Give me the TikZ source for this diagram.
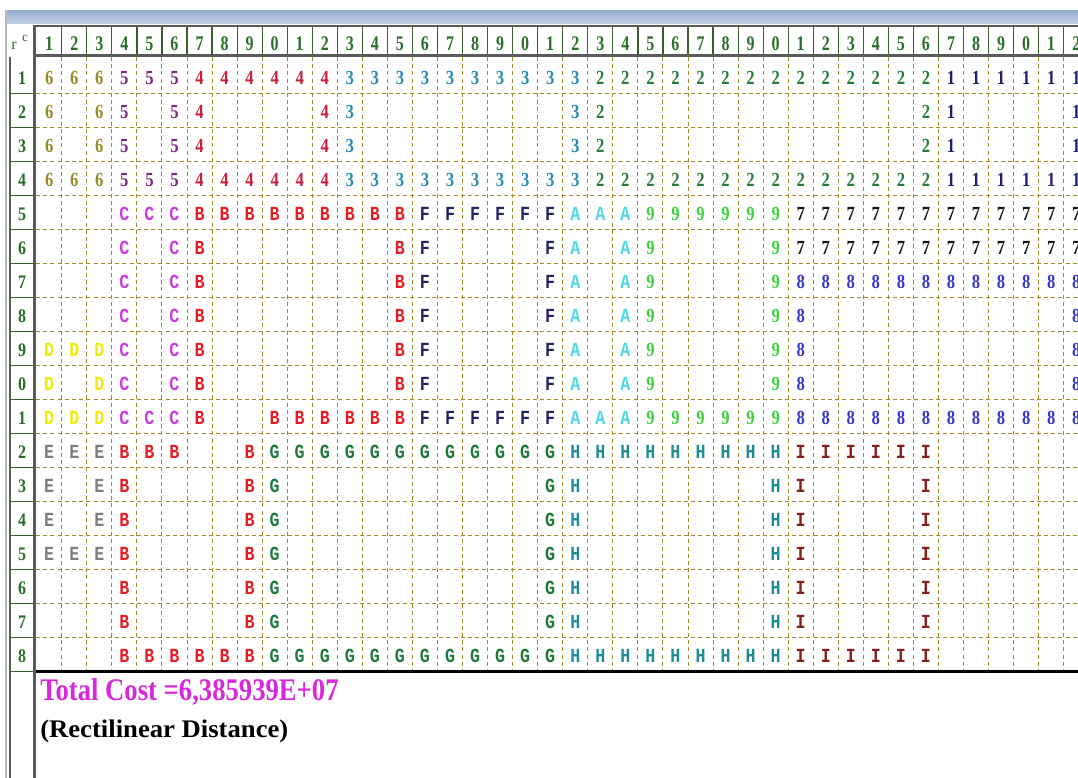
\documentclass[tikz,border=0pt]{standalone}
\usepackage{fontspec}
\setmainfont{Liberation Serif}
\newfontfamily\monof{Liberation Mono}
\definecolor{cl6}{RGB}{150,140,40}
\definecolor{cl5}{RGB}{125,40,130}
\definecolor{cl4}{RGB}{200,30,60}
\definecolor{cl3}{RGB}{40,140,175}
\definecolor{cl2}{RGB}{40,125,60}
\definecolor{cl1}{RGB}{30,30,115}
\definecolor{clC}{RGB}{200,60,225}
\definecolor{clB}{RGB}{230,30,35}
\definecolor{clF}{RGB}{35,35,95}
\definecolor{clA}{RGB}{80,215,230}
\definecolor{cl9}{RGB}{60,210,60}
\definecolor{cl7}{RGB}{20,20,20}
\definecolor{cl8}{RGB}{55,55,200}
\definecolor{clD}{RGB}{240,235,0}
\definecolor{clE}{RGB}{125,125,125}
\definecolor{clG}{RGB}{30,120,60}
\definecolor{clH}{RGB}{30,140,150}
\definecolor{clI}{RGB}{135,30,30}
\definecolor{hdrgreen}{RGB}{40,110,40}
\definecolor{gridol}{RGB}{160,140,40}
\definecolor{hdrline}{RGB}{60,95,50}
\definecolor{thickgrey}{RGB}{90,90,90}
\definecolor{magtxt}{RGB}{215,40,220}
\tikzset{
  dig/.style={font=\fontsize{12.5}{12}\selectfont\bfseries},
  let/.style={font=\fontsize{12.5}{12}\selectfont\monof\bfseries},
  ch1/.style={dig,text=cl1}, ch2/.style={dig,text=cl2}, ch3/.style={dig,text=cl3},
  ch4/.style={dig,text=cl4}, ch5/.style={dig,text=cl5}, ch6/.style={dig,text=cl6},
  ch7/.style={dig,text=cl7}, ch8/.style={dig,text=cl8}, ch9/.style={dig,text=cl9},
  chA/.style={let,text=clA}, chB/.style={let,text=clB}, chC/.style={let,text=clC},
  chD/.style={let,text=clD}, chE/.style={let,text=clE}, chF/.style={let,text=clF},
  chG/.style={let,text=clG}, chH/.style={let,text=clH}, chI/.style={let,text=clI},
  gridl/.style={draw=gridol, line width=0.75pt, dash pattern=on 3pt off 2.4pt},
  hdrl/.style={draw=hdrline, line width=0.9pt},
  hdr/.style={inner sep=0pt, text=hdrgreen, font=\fontsize{12}{12}\selectfont\bfseries},
}
\newcommand\cellrun[4]{%
  \foreach \k in {#2,...,#3}{%
    \node[inner sep=0pt, ch#4] (n-#1-\k) at ({36.7+25.05*(\k-0.5)},{61+34*(#1-0.5)}) {\scalebox{1}[1.2]{#4}};%
  }%
}
\begin{document}
\begin{tikzpicture}[x=0.75pt,y=-0.75pt]
\useasboundingbox (0,0) rectangle (1078,778);
\clip (0,0) rectangle (1078,778);
% window title bar
\fill[top color={rgb,255:red,150;green,172;blue,205}, bottom color={rgb,255:red,192;green,206;blue,226}] (6,10) rectangle (1078,23);
% left borders
\draw[draw={rgb,255:red,185;green,185;blue,185}, line width=1.1pt] (6,10) -- (6,778);
\draw[draw={rgb,255:red,80;green,100;blue,80}, line width=1.1pt] (10,57) -- (10,778);
% dashed grid
\foreach \k in {1,...,42} \draw[gridl] ({36.7+25.05*\k},57) -- ({36.7+25.05*\k},671);
\foreach \r in {1,...,17} \draw[gridl] (36,{59.1+34*\r}) -- (1078,{59.1+34*\r});
% header
\draw[draw=thickgrey, line width=1.2pt] (33,26) -- (1078,26);
\foreach \k in {1,...,42} \draw[hdrl] ({36.7+25.05*\k},27) -- ({36.7+25.05*\k},54);
\foreach \k in {1,...,42}{%
  \pgfmathtruncatemacro\lab{mod(\k,10)}%
  \node[hdr] (h-\k) at ({36.7+25.05*(\k-0.5)},44) {\scalebox{1}[1.3]{\lab}};}
\node[hdr, font=\fontsize{12}{12}\selectfont] (cr) at (14,46) {r};
\node[hdr, font=\fontsize{10}{10}\selectfont] (cc) at (25,38) {c};
% row labels
\foreach \r in {1,...,18}{%
  \pgfmathtruncatemacro\lab{mod(\r,10)}%
  \node[hdr] (r-\r) at (22,{61+34*(\r-0.5)}) {\scalebox{1}[1.2]{\lab}};
  \draw[hdrl] (10,{59.1+34*\r}) -- (33,{59.1+34*\r});}
% thick lines
\draw[draw=thickgrey, line width=2.6pt] (33,55.5) -- (1078,55.5);
\draw[draw=thickgrey, line width=2.4pt] (34.6,25) -- (34.6,778);
\draw[draw=black, line width=2.2pt] (36,671.5) -- (1078,671.5);
% cells
\cellrun{1}{1}{3}{6}\cellrun{1}{4}{6}{5}\cellrun{1}{7}{12}{4}\cellrun{1}{13}{22}{3}\cellrun{1}{23}{36}{2}\cellrun{1}{37}{42}{1}
\foreach \rr in {2,3}{%
 \cellrun{\rr}{1}{1}{6}\cellrun{\rr}{3}{3}{6}\cellrun{\rr}{4}{4}{5}\cellrun{\rr}{6}{6}{5}\cellrun{\rr}{7}{7}{4}\cellrun{\rr}{12}{12}{4}%
 \cellrun{\rr}{13}{13}{3}\cellrun{\rr}{22}{22}{3}\cellrun{\rr}{23}{23}{2}\cellrun{\rr}{36}{36}{2}\cellrun{\rr}{37}{37}{1}\cellrun{\rr}{42}{42}{1}}
\cellrun{4}{1}{3}{6}\cellrun{4}{4}{6}{5}\cellrun{4}{7}{12}{4}\cellrun{4}{13}{22}{3}\cellrun{4}{23}{36}{2}\cellrun{4}{37}{42}{1}
\cellrun{5}{4}{6}{C}\cellrun{5}{7}{15}{B}\cellrun{5}{16}{21}{F}\cellrun{5}{22}{24}{A}\cellrun{5}{25}{30}{9}\cellrun{5}{31}{42}{7}
\foreach \rr in {6,...,10}{%
 \cellrun{\rr}{4}{4}{C}\cellrun{\rr}{6}{6}{C}\cellrun{\rr}{7}{7}{B}\cellrun{\rr}{15}{15}{B}\cellrun{\rr}{16}{16}{F}\cellrun{\rr}{21}{21}{F}%
 \cellrun{\rr}{22}{22}{A}\cellrun{\rr}{24}{24}{A}\cellrun{\rr}{25}{25}{9}\cellrun{\rr}{30}{30}{9}}
\cellrun{6}{31}{42}{7}
\cellrun{7}{31}{42}{8}
\foreach \rr in {8,9,10}{\cellrun{\rr}{31}{31}{8}\cellrun{\rr}{42}{42}{8}}
\cellrun{9}{1}{3}{D}
\cellrun{10}{1}{1}{D}\cellrun{10}{3}{3}{D}
\cellrun{11}{1}{3}{D}\cellrun{11}{4}{6}{C}\cellrun{11}{7}{7}{B}\cellrun{11}{10}{15}{B}\cellrun{11}{16}{21}{F}\cellrun{11}{22}{24}{A}\cellrun{11}{25}{30}{9}\cellrun{11}{31}{42}{8}
\cellrun{12}{1}{3}{E}\cellrun{12}{4}{6}{B}\cellrun{12}{9}{9}{B}\cellrun{12}{10}{21}{G}\cellrun{12}{22}{30}{H}\cellrun{12}{31}{36}{I}
\foreach \rr in {13,14}{\cellrun{\rr}{1}{1}{E}\cellrun{\rr}{3}{3}{E}}
\cellrun{15}{1}{3}{E}
\foreach \rr in {13,...,17}{%
 \cellrun{\rr}{4}{4}{B}\cellrun{\rr}{9}{9}{B}\cellrun{\rr}{10}{10}{G}\cellrun{\rr}{21}{21}{G}%
 \cellrun{\rr}{22}{22}{H}\cellrun{\rr}{30}{30}{H}\cellrun{\rr}{31}{31}{I}\cellrun{\rr}{36}{36}{I}}
\cellrun{18}{4}{9}{B}\cellrun{18}{10}{21}{G}\cellrun{18}{22}{30}{H}\cellrun{18}{31}{36}{I}
% texts
\node[anchor=base west, inner sep=0pt, text=magtxt, font=\fontsize{20}{20}\selectfont\bfseries] (total) at (40,700) {\scalebox{1}[1.18]{Total Cost =6,385939E+07}};
\node[anchor=base west, inner sep=0pt, text=black, font=\fontsize{20}{20}\selectfont\bfseries] (rect) at (40,737) {\scalebox{1}[0.95]{(Rectilinear Distance)}};
\end{tikzpicture}
\end{document}
